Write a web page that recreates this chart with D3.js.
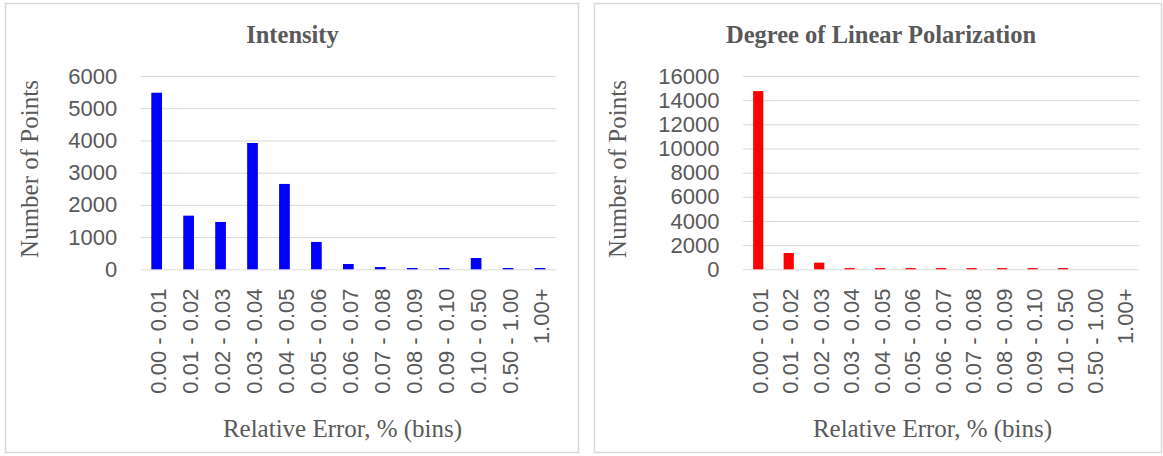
<!DOCTYPE html>
<html>
<head>
<meta charset="utf-8">
<script src="https://cdn.jsdelivr.net/npm/d3@7"></script>
<style>
  html, body { margin: 0; padding: 0; background: #fff; }
  svg { display: block; }
</style>
</head>
<body>
<svg id="chart" width="1163" height="456"></svg>
<script>
// ---- data ----
const categories = ["0.00 - 0.01","0.01 - 0.02","0.02 - 0.03","0.03 - 0.04","0.04 - 0.05","0.05 - 0.06",
  "0.06 - 0.07","0.07 - 0.08","0.08 - 0.09","0.09 - 0.10","0.10 - 0.50","0.50 - 1.00","1.00+"];
const intensityValues = [5480, 1665, 1470, 3920, 2650, 850, 165, 70, 40, 40, 350, 40, 40];
const dolpValues = [14750, 1350, 550, 100, 100, 100, 100, 100, 100, 100, 100, 0, 0];
const intensityTicks = [0, 1000, 2000, 3000, 4000, 5000, 6000];
const dolpTicks = [0, 2000, 4000, 6000, 8000, 10000, 12000, 14000, 16000];
const titles = ["Intensity", "Degree of Linear Polarization"];
const yTitle = "Number of Points";
const xTitle = "Relative Error, % (bins)";

const svg = d3.select("#chart");
const grey = "#595959";
const gridColor = "#d9d9d9";

const panels = [
  { title: titles[0], values: intensityValues, ticks: intensityTicks, color: "#0000ff",
    box: [5.5, 3.5, 573, 449], plot: [140.7, 556, 76, 269.3], titleX: 292.5, yTitleX: 38, xTitleX: 342.5 },
  { title: titles[1], values: dolpValues, ticks: dolpTicks, color: "#ff0000",
    box: [594.5, 3.5, 567, 449], plot: [743, 1139.3, 76, 269.3], titleX: 881, yTitleX: 625.7, xTitleX: 932.5 }
];

panels.forEach(p => {
  const g = svg.append("g");
  g.append("rect")
    .attr("x", p.box[0]).attr("y", p.box[1]).attr("width", p.box[2]).attr("height", p.box[3])
    .attr("fill", "#fff").attr("stroke", gridColor).attr("stroke-width", 1.5);

  const [x0, x1, yTop, yBot] = p.plot;
  const x = d3.scaleBand().domain(categories).range([x0, x1]).paddingInner(0.665).paddingOuter(0.3325);
  const y = d3.scaleLinear().domain([0, d3.max(p.ticks)]).range([yBot, yTop]);

  // y axis with gridlines
  const yAxis = d3.axisLeft(y).tickValues(p.ticks).tickSize(-(x1 - x0)).tickPadding(23.5).tickFormat(d3.format("d"));
  const ya = g.append("g").attr("transform", `translate(${x0},0)`).call(yAxis);
  ya.select(".domain").remove();
  ya.selectAll(".tick line").attr("stroke", gridColor).attr("stroke-width", 1);
  ya.selectAll(".tick text")
    .attr("fill", grey).attr("font-family", "'Liberation Sans', Arial, sans-serif").attr("font-size", 22);

  // bars
  g.selectAll("rect.bar").data(p.values).join("rect")
    .attr("class", "bar")
    .attr("x", (d, i) => x(categories[i]))
    .attr("width", x.bandwidth())
    .attr("y", d => y(d))
    .attr("height", d => y(0) - y(d))
    .attr("fill", p.color);

  // x tick labels (rotated)
  g.selectAll("text.xlab").data(categories).join("text")
    .attr("class", "xlab")
    .attr("transform", d => `translate(${x(d) + x.bandwidth() / 2 + 1.5},288.5) rotate(-90)`)
    .attr("text-anchor", "end")
    .attr("dy", "0.36em")
    .attr("fill", grey)
    .attr("font-family", "'Liberation Sans', Arial, sans-serif")
    .attr("font-size", 22)
    .text(d => d);

  // chart title
  g.append("text")
    .attr("x", p.titleX).attr("y", 42.7)
    .attr("text-anchor", "middle")
    .attr("fill", grey)
    .attr("font-family", "'Liberation Serif', 'Times New Roman', serif")
    .attr("font-weight", "bold")
    .attr("font-size", 24.5)
    .text(p.title);

  // y axis title
  g.append("text")
    .attr("transform", `translate(${p.yTitleX},169) rotate(-90)`)
    .attr("text-anchor", "middle")
    .attr("fill", grey)
    .attr("font-family", "'Liberation Serif', 'Times New Roman', serif")
    .attr("font-size", 25)
    .text(yTitle);

  // x axis title
  g.append("text")
    .attr("x", p.xTitleX).attr("y", 437)
    .attr("text-anchor", "middle")
    .attr("fill", grey)
    .attr("font-family", "'Liberation Serif', 'Times New Roman', serif")
    .attr("font-size", 25)
    .text(xTitle);
});
</script>
</body>
</html>
